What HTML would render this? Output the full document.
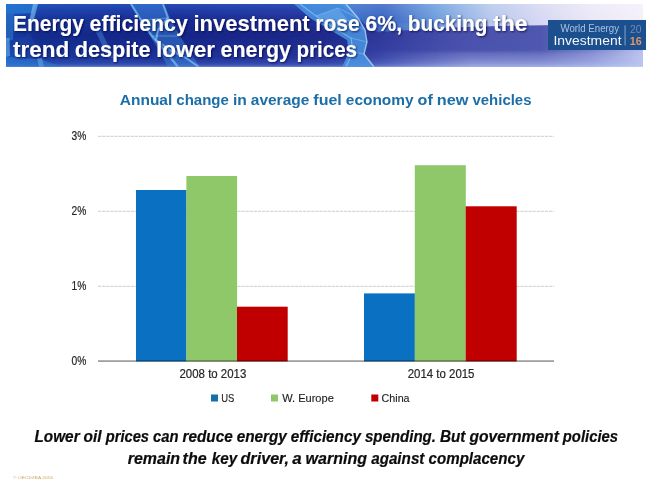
<!DOCTYPE html>
<html>
<head>
<meta charset="utf-8">
<title>Energy efficiency investment</title>
<style>
html,body{margin:0;padding:0;background:#fff;}
body{width:669px;height:487px;overflow:hidden;font-family:"Liberation Sans",sans-serif;}
svg{display:block;}
text{font-family:"Liberation Sans",sans-serif;}
</style>
</head>
<body>
<svg width="669" height="487" viewBox="0 0 669 487">
<defs>
<linearGradient id="bg" x1="6" y1="0" x2="643" y2="0" gradientUnits="userSpaceOnUse">
<stop offset="0" stop-color="#1a54bc"/>
<stop offset="0.05" stop-color="#17389f"/>
<stop offset="0.25" stop-color="#192e97"/>
<stop offset="0.5" stop-color="#26339b"/>
<stop offset="0.62" stop-color="#3b45a6"/>
<stop offset="0.72" stop-color="#4951ab"/>
<stop offset="0.84" stop-color="#4f57ae"/>
<stop offset="0.92" stop-color="#7c84ca"/>
<stop offset="1" stop-color="#c2c6ee"/>
</linearGradient>
<linearGradient id="vshade" x1="0" y1="4" x2="0" y2="66.7" gradientUnits="userSpaceOnUse">
<stop offset="0" stop-color="#3a78e0" stop-opacity="0.4"/>
<stop offset="0.12" stop-color="#3468d4" stop-opacity="0.2"/>
<stop offset="0.25" stop-color="#3050c0" stop-opacity="0.04"/>
<stop offset="0.5" stop-color="#3050c0" stop-opacity="0"/>
<stop offset="0.85" stop-color="#5a80e8" stop-opacity="0.08"/>
<stop offset="0.94" stop-color="#6a90ec" stop-opacity="0.25"/>
<stop offset="1" stop-color="#8ab0f6" stop-opacity="0.5"/>
</linearGradient>
<linearGradient id="middark" x1="0" y1="4" x2="0" y2="66.7" gradientUnits="userSpaceOnUse">
<stop offset="0.15" stop-color="#0a1060" stop-opacity="0"/>
<stop offset="0.5" stop-color="#0a1060" stop-opacity="0.3"/>
<stop offset="0.9" stop-color="#0a1060" stop-opacity="0.05"/>
</linearGradient>
<linearGradient id="hfade" x1="6" y1="0" x2="440" y2="0" gradientUnits="userSpaceOnUse">
<stop offset="0" stop-color="#fff"/>
<stop offset="0.7" stop-color="#fff"/>
<stop offset="1" stop-color="#000"/>
</linearGradient>
<mask id="hm" maskUnits="userSpaceOnUse" x="0" y="0" width="669" height="80"><rect x="0" y="0" width="669" height="80" fill="url(#hfade)"/></mask>
<linearGradient id="lowband" x1="0" y1="50" x2="0" y2="66.7" gradientUnits="userSpaceOnUse">
<stop offset="0" stop-color="#c8ccf4" stop-opacity="0"/>
<stop offset="0.25" stop-color="#c8ccf4" stop-opacity="0.22"/>
<stop offset="1" stop-color="#d4d8f8" stop-opacity="0.5"/>
</linearGradient>
<linearGradient id="hfade2" x1="360" y1="0" x2="470" y2="0" gradientUnits="userSpaceOnUse">
<stop offset="0" stop-color="#000"/>
<stop offset="1" stop-color="#fff"/>
</linearGradient>
<mask id="hm2" maskUnits="userSpaceOnUse" x="0" y="0" width="669" height="80"><rect x="0" y="0" width="669" height="80" fill="url(#hfade2)"/></mask>
<filter id="ts" x="-3%" y="-30%" width="106%" height="170%">
<feGaussianBlur in="SourceAlpha" stdDeviation="1.1" result="b"/>
<feOffset in="b" dx="1" dy="0.9" result="o"/>
<feFlood flood-color="#060c40" flood-opacity="0.75"/>
<feComposite in2="o" operator="in" result="sh"/>
<feMerge><feMergeNode in="sh"/><feMergeNode in="SourceGraphic"/></feMerge>
</filter>
<linearGradient id="topr" x1="300" y1="0" x2="643" y2="0" gradientUnits="userSpaceOnUse">
<stop offset="0" stop-color="#3a7ad4"/>
<stop offset="0.12" stop-color="#3c72cc"/>
<stop offset="0.24" stop-color="#3562c2"/>
<stop offset="0.4" stop-color="#6d9ede"/>
<stop offset="0.55" stop-color="#b4c6ec"/>
<stop offset="0.7" stop-color="#d6d8f2"/>
<stop offset="0.85" stop-color="#ebe8f7"/>
<stop offset="1" stop-color="#f3f0fa"/>
</linearGradient>
<linearGradient id="toprv" x1="0" y1="4" x2="0" y2="34" gradientUnits="userSpaceOnUse">
<stop offset="0" stop-color="#ffffff" stop-opacity="0.15"/>
<stop offset="0.6" stop-color="#ffffff" stop-opacity="0"/>
<stop offset="1" stop-color="#3040a0" stop-opacity="0.25"/>
</linearGradient>
<clipPath id="bclip"><rect x="6" y="4" width="637" height="62.7"/></clipPath>
</defs>
<rect width="669" height="487" fill="#ffffff"/>
<!-- banner -->
<g clip-path="url(#bclip)">
<rect x="6" y="4" width="637" height="63" fill="url(#bg)"/>
<rect x="6" y="4" width="637" height="63" fill="url(#vshade)"/>
<rect x="6" y="4" width="440" height="63" fill="url(#middark)" mask="url(#hm)"/>
<rect x="360" y="50" width="283" height="17" fill="url(#lowband)" mask="url(#hm2)"/>
<!-- light region top right -->
<path d="M340 4 L643 4 L643 23 L560 25 L500 26 C450 27 420 29 395 31 C385 32 378 32 372 31 L352 12 Z" fill="url(#topr)"/>
<path d="M340 4 L643 4 L643 23 L560 25 L500 26 C450 27 420 29 395 31 C385 32 378 32 372 31 L352 12 Z" fill="url(#toprv)"/>
<!-- strand near 300-375 -->
<path d="M294 4 L347 4 L358 18 L365 30 L367 42 L364 54 L374 67 L342 67 L349 52 L347 40 L330 30 L310 18 Z" fill="#4c9ae6" fill-opacity="0.8"/>
<path d="M300 4 L316 16 L334 28 L351 38 L353 52 L346 67" fill="none" stroke="#8fd0f8" stroke-opacity="0.6" stroke-width="1.2"/>
<path d="M346 4 L358 18 L365 30 L367 42 L364 54 L374 67" fill="none" stroke="#b4e0fa" stroke-opacity="0.75" stroke-width="1.4"/>
<path d="M316 16 L338 8 L358 18 M334 28 L348 20 L365 30 M351 38 L367 42 M353 52 L364 54" fill="none" stroke="#8fd0f8" stroke-opacity="0.45" stroke-width="1"/>
<path d="M316 16 L338 8 L348 20 L334 28 Z" fill="#8cccf8" fill-opacity="0.3"/>
<!-- helix strand 130-200 -->
<path d="M130 4 L164 4 L170 18 L180 36 L190 52 L200 67 L168 67 L160 52 L150 36 L140 20 Z" fill="#3a86dc" fill-opacity="0.5"/>
<path d="M131 4 L141 20 L152 36 L166 52 L178 67" fill="none" stroke="#7cc4f6" stroke-opacity="0.7" stroke-width="2.2"/>
<path d="M163 4 L168 18 L158 30 L156 40 L170 50 L186 58 L199 67" fill="none" stroke="#86ccf8" stroke-opacity="0.65" stroke-width="2"/>
<path d="M141 20 L168 18 M152 36 L180 36 M166 52 L190 52" fill="none" stroke="#9ad4fa" stroke-opacity="0.4" stroke-width="1"/>
<!-- streak near 100 -->
<path d="M93 26 L99 26 L114 58 L108 58 Z" fill="#4a8ee0" fill-opacity="0.45"/>
<!-- left patches -->
<path d="M6 4 L36 4 L33 13 L6 14 Z" fill="#2478d0" fill-opacity="0.8"/>
<path d="M33 4 L38 4 L33 23 L29 22 Z" fill="#7ac0f0" fill-opacity="0.65"/>
<path d="M6 14 L14 13 L13 40 L6 41 Z" fill="#2a70c8" fill-opacity="0.65"/>
<path d="M6 38 L9.5 38 L10 56 L6 57 Z" fill="#6ab0e8" fill-opacity="0.6"/>
<path d="M6 57 L40 59 L62 67 L6 67 Z" fill="#2a7ad2" fill-opacity="0.6"/>
<path d="M37 58 L42 58 L44 67 L39 67 Z" fill="#6ab0e8" fill-opacity="0.5"/>
<path d="M14 40 L30 34 L42 58 L20 60 Z" fill="#2448b0" fill-opacity="0.35"/>
</g>
<!-- logo -->
<rect x="548" y="20" width="98" height="30" fill="#1b4f8e"/>
<text x="560.5" y="32.3" font-size="10" fill="#a9c3e2" textLength="58.5" lengthAdjust="spacingAndGlyphs">World Energy</text>
<text x="553.5" y="45.2" font-size="12.8" fill="#f4f8fc" textLength="68" lengthAdjust="spacingAndGlyphs">Investment</text>
<rect x="624.6" y="25.5" width="0.9" height="20" fill="#8fb0d6"/>
<text x="630" y="33" font-size="10.5" fill="#7489b8" textLength="11.5" lengthAdjust="spacingAndGlyphs">20</text>
<text x="629.8" y="45.2" font-size="10.5" font-weight="bold" fill="#dc966c" textLength="12" lengthAdjust="spacingAndGlyphs">16</text>
<!-- title -->
<g font-weight="bold" font-size="22.1">
<g fill="#ffffff" filter="url(#ts)">
<text x="13.1" y="30.5" textLength="70.9" lengthAdjust="spacingAndGlyphs">Energy</text>
<text x="89.6" y="30.5" textLength="98.2" lengthAdjust="spacingAndGlyphs">efficiency</text>
<text x="193.4" y="30.5" textLength="116.3" lengthAdjust="spacingAndGlyphs">investment</text>
<text x="315.3" y="30.5" textLength="44.4" lengthAdjust="spacingAndGlyphs">rose</text>
<text x="365.3" y="30.5" textLength="36.9" lengthAdjust="spacingAndGlyphs">6%,</text>
<text x="407.8" y="30.5" textLength="79.7" lengthAdjust="spacingAndGlyphs">bucking</text>
<text x="493.1" y="30.5" textLength="34.3" lengthAdjust="spacingAndGlyphs">the</text>
<text x="12.9" y="56.6" textLength="56.3" lengthAdjust="spacingAndGlyphs">trend</text>
<text x="74.7" y="56.6" textLength="75.9" lengthAdjust="spacingAndGlyphs">despite</text>
<text x="156.1" y="56.6" textLength="58.9" lengthAdjust="spacingAndGlyphs">lower</text>
<text x="220.6" y="56.6" textLength="70.3" lengthAdjust="spacingAndGlyphs">energy</text>
<text x="296.4" y="56.6" textLength="60.7" lengthAdjust="spacingAndGlyphs">prices</text>
</g>
</g>
<!-- chart title -->
<g font-size="15.1" font-weight="bold" fill="#1c6ea8">
<text x="119.8" y="105.1" textLength="52.5" lengthAdjust="spacingAndGlyphs">Annual</text>
<text x="176.3" y="105.1" textLength="52.6" lengthAdjust="spacingAndGlyphs">change</text>
<text x="232.9" y="105.1" textLength="13.9" lengthAdjust="spacingAndGlyphs">in</text>
<text x="250.8" y="105.1" textLength="58.5" lengthAdjust="spacingAndGlyphs">average</text>
<text x="313.3" y="105.1" textLength="28.5" lengthAdjust="spacingAndGlyphs">fuel</text>
<text x="345.8" y="105.1" textLength="67.8" lengthAdjust="spacingAndGlyphs">economy</text>
<text x="417.6" y="105.1" textLength="15.2" lengthAdjust="spacingAndGlyphs">of</text>
<text x="436.8" y="105.1" textLength="31.7" lengthAdjust="spacingAndGlyphs">new</text>
<text x="472.5" y="105.1" textLength="59.0" lengthAdjust="spacingAndGlyphs">vehicles</text>
</g>
<!-- gridlines -->
<g stroke="#bababa" stroke-width="0.75" stroke-dasharray="3.2 0.9">
<line x1="98" y1="136.3" x2="554" y2="136.3"/>
<line x1="98" y1="211.3" x2="554" y2="211.3"/>
<line x1="98" y1="286.3" x2="554" y2="286.3"/>
</g>
<!-- bars -->
<rect x="136" y="190" width="50.5" height="171.4" fill="#0a70c2"/>
<rect x="186.4" y="176" width="50.7" height="185.4" fill="#8fc868"/>
<rect x="237" y="306.7" width="50.7" height="54.7" fill="#c00000"/>
<rect x="364" y="293.4" width="50.9" height="68" fill="#0a70c2"/>
<rect x="414.8" y="165.2" width="51" height="196.2" fill="#8fc868"/>
<rect x="465.7" y="206.3" width="51" height="155.1" fill="#c00000"/>
<!-- axis -->
<rect x="98" y="360.3" width="456" height="1.6" fill="#000000" fill-opacity="0.42"/>
<!-- y labels -->
<g font-size="12.2" fill="#262626" stroke="#262626" stroke-width="0.2">
<text x="71.6" y="140.3" textLength="14.8" lengthAdjust="spacingAndGlyphs">3%</text>
<text x="71.6" y="215.3" textLength="14.8" lengthAdjust="spacingAndGlyphs">2%</text>
<text x="71.6" y="290.3" textLength="14.8" lengthAdjust="spacingAndGlyphs">1%</text>
<text x="71.6" y="365.3" textLength="14.8" lengthAdjust="spacingAndGlyphs">0%</text>
<text x="179.5" y="377.7" textLength="66.8" lengthAdjust="spacingAndGlyphs">2008 to 2013</text>
<text x="407.7" y="377.6" textLength="66.8" lengthAdjust="spacingAndGlyphs">2014 to 2015</text>
</g>
<!-- legend -->
<rect x="211" y="394.5" width="7" height="7" fill="#1272a8"/>
<rect x="271" y="394.5" width="7" height="7" fill="#8fc868"/>
<rect x="371.3" y="394.5" width="7" height="7" fill="#c00000"/>
<g font-size="11.5" fill="#1e1e1e" stroke="#1e1e1e" stroke-width="0.15">
<text x="221.3" y="401.8" textLength="13.1" lengthAdjust="spacingAndGlyphs">US</text>
<text x="282.2" y="401.8" textLength="51.6" lengthAdjust="spacingAndGlyphs">W. Europe</text>
<text x="381.6" y="401.8" textLength="28" lengthAdjust="spacingAndGlyphs">China</text>
</g>
<!-- bottom text -->
<g font-size="15.7" font-weight="bold" font-style="italic" fill="#0c0c0c" stroke="#0c0c0c" stroke-width="0.2">
<text x="34.5" y="442.1" textLength="45.1" lengthAdjust="spacingAndGlyphs">Lower</text>
<text x="83.6" y="442.1" textLength="18.1" lengthAdjust="spacingAndGlyphs">oil</text>
<text x="105.7" y="442.1" textLength="43.3" lengthAdjust="spacingAndGlyphs">prices</text>
<text x="153.0" y="442.1" textLength="25.5" lengthAdjust="spacingAndGlyphs">can</text>
<text x="182.5" y="442.1" textLength="50.2" lengthAdjust="spacingAndGlyphs">reduce</text>
<text x="236.7" y="442.1" textLength="50.2" lengthAdjust="spacingAndGlyphs">energy</text>
<text x="290.8" y="442.1" textLength="70.1" lengthAdjust="spacingAndGlyphs">efficiency</text>
<text x="364.9" y="442.1" textLength="71.1" lengthAdjust="spacingAndGlyphs">spending.</text>
<text x="439.9" y="442.1" textLength="25.5" lengthAdjust="spacingAndGlyphs">But</text>
<text x="469.4" y="442.1" textLength="89.5" lengthAdjust="spacingAndGlyphs">government</text>
<text x="562.8" y="442.1" textLength="55.2" lengthAdjust="spacingAndGlyphs">policies</text>
<text x="127.8" y="463.6" textLength="52.3" lengthAdjust="spacingAndGlyphs">remain</text>
<text x="182.6" y="463.6" textLength="24.0" lengthAdjust="spacingAndGlyphs">the</text>
<text x="211.8" y="463.6" textLength="25.5" lengthAdjust="spacingAndGlyphs">key</text>
<text x="240.5" y="463.6" textLength="48.5" lengthAdjust="spacingAndGlyphs">driver,</text>
<text x="292.2" y="463.6" textLength="9.4" lengthAdjust="spacingAndGlyphs">a</text>
<text x="305.6" y="463.6" textLength="61.4" lengthAdjust="spacingAndGlyphs">warning</text>
<text x="371.2" y="463.6" textLength="53.2" lengthAdjust="spacingAndGlyphs">against</text>
<text x="428.6" y="463.6" textLength="95.7" lengthAdjust="spacingAndGlyphs">complacency</text>
</g>
<text x="13" y="478.5" font-size="4.2" fill="#c8aa62" textLength="40" lengthAdjust="spacingAndGlyphs">© OECD/IEA 2016</text>
</svg>
</body>
</html>
